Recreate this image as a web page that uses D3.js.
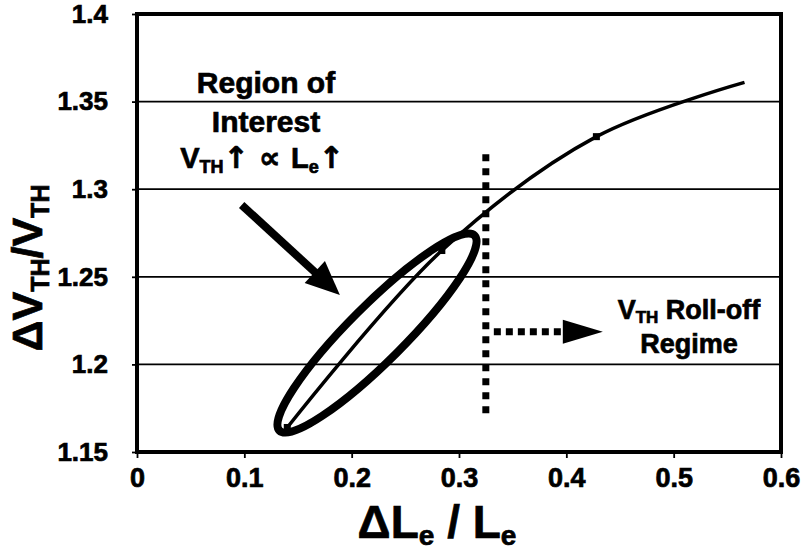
<!DOCTYPE html>
<meta charset="utf-8">
<head>
<style>
  body { margin: 0; background: #fff; }
  svg { display: block; }
  text { font-family: "Liberation Sans", Arial, sans-serif; font-weight: bold; fill: #000;
         stroke: #000; stroke-width: 0.7px; }
  .sym { font-family: "DejaVu Sans", sans-serif; }
</style>
</head>
<body>
<div id="chart"></div>
<script src="https://d3js.org/d3.v7.min.js"></script>
<script>
    // data
    const curveX = [0.14, 0.284, 0.428, 0.566];
    const curveY = [1.164, 1.265, 1.330, 1.361];
    const markerCount = 3;

    const xTicks = [0, 0.1, 0.2, 0.3, 0.4, 0.5, 0.6];
    const xTickLabels = ['0', '0.1', '0.2', '0.3', '0.4', '0.5', '0.6'];
    const yTicks = [1.15, 1.2, 1.25, 1.3, 1.35, 1.4];
    const yTickLabels = ['1.15', '1.2', '1.25', '1.3', '1.35', '1.4'];
    const gridValues = [1.2, 1.25, 1.3, 1.35];

    // annotations (data units)
    const ellipseCenter = [0.2236, 1.2179];
    const arrowFrom = [0.0975, 1.291];
    const arrowTo = [0.189, 1.2396];
    const rollOffX = 0.325;
    const rollOffYRange = [1.170, 1.32];
    const rollArrowY = 1.2187;
    const rollArrowEnd = 0.434;

    // chart setting
    let svgWidth = 808;
    let svgHeight = 551;
    let margin = {top: 14, right: 27, bottom: 99, left: 137};
    let width = svgWidth - margin.left - margin.right;
    let height = svgHeight - margin.top - margin.bottom;

    let svg = d3.select('#chart')
        .append('svg')
        .attr('width', svgWidth)
        .attr('height', svgHeight);

    let g = svg.append('g')
        .attr('transform', `translate(${margin.left}, ${margin.top})`);

    let x = d3.scaleLinear().domain([0, 0.6]).range([0, width]);
    let y = d3.scaleLinear().domain([1.15, 1.4]).range([height, 0]);

    // grid lines
    g.selectAll('.grid')
        .data(gridValues)
        .enter()
        .append('line')
        .attr('x1', 0)
        .attr('x2', width)
        .attr('y1', d => y(d))
        .attr('y2', d => y(d))
        .attr('stroke', '#000')
        .attr('stroke-width', 1.8);

    // axes
    let xAxis = g.append('g')
        .attr('transform', `translate(0, ${height})`)
        .call(d3.axisBottom(x).tickValues(xTicks).tickSize(6).tickPadding(10)
            .tickFormat((d, i) => xTickLabels[i]));
    let yAxis = g.append('g')
        .call(d3.axisLeft(y).tickValues(yTicks).tickSize(5).tickPadding(24)
            .tickFormat((d, i) => yTickLabels[i]));

    [xAxis, yAxis].forEach(a => {
        a.select('.domain').remove();
        a.selectAll('line').attr('stroke', '#000').attr('stroke-width', 1.8);
        a.selectAll('text').attr('fill', '#000')
            .style('font-family', '"Liberation Sans", Arial, sans-serif')
            .style('font-weight', 'bold');
    });
    xAxis.selectAll('text').style('font-size', '27px');
    yAxis.selectAll('text').style('font-size', '26px');

    // frame
    g.append('rect')
        .attr('x', 0)
        .attr('y', 0)
        .attr('width', width)
        .attr('height', height)
        .attr('fill', 'none')
        .attr('stroke', '#000')
        .attr('stroke-width', 4);

    // data line
    let points = curveX.map((v, i) => [v, curveY[i]]);
    let line = d3.line()
        .x(d => x(d[0]))
        .y(d => y(d[1]))
        .curve(d3.curveCatmullRom.alpha(0.5));

    g.append('path')
        .datum(points)
        .attr('d', line)
        .attr('fill', 'none')
        .attr('stroke', '#000')
        .attr('stroke-width', 3.5);

    g.selectAll('.marker')
        .data(points.slice(0, markerCount))
        .enter()
        .append('rect')
        .attr('x', d => x(d[0]) - 3.5)
        .attr('y', d => y(d[1]) - 3.5)
        .attr('width', 7)
        .attr('height', 7)
        .attr('fill', '#000');

    // ellipse round region of interest
    g.append('ellipse')
        .attr('transform', `translate(${x(ellipseCenter[0])}, ${y(ellipseCenter[1])}) rotate(-45)`)
        .attr('rx', 138)
        .attr('ry', 28)
        .attr('fill', 'none')
        .attr('stroke', '#000')
        .attr('stroke-width', 8);

    // arrow head points
    function arrowHead(x1, y1, x2, y2, len, half) {
        let dx = x2 - x1, dy = y2 - y1;
        let l = Math.sqrt(dx * dx + dy * dy);
        let ux = dx / l, uy = dy / l;
        let bx = x2 - ux * len, by = y2 - uy * len;
        return [[x2, y2], [bx - uy * half, by + ux * half], [bx + uy * half, by - ux * half]];
    }

    // solid arrow
    let ax1 = x(arrowFrom[0]), ay1 = y(arrowFrom[1]);
    let ax2 = x(arrowTo[0]), ay2 = y(arrowTo[1]);
    let head = arrowHead(ax1, ay1, ax2, ay2, 34, 15);
    let bx = (head[1][0] + head[2][0]) / 2, by = (head[1][1] + head[2][1]) / 2;
    g.append('line')
        .attr('x1', ax1).attr('y1', ay1)
        .attr('x2', bx + (ax2 - bx) * 0.2).attr('y2', by + (ay2 - by) * 0.2)
        .attr('stroke', '#000')
        .attr('stroke-width', 8);
    g.append('polygon')
        .attr('points', head.map(p => p.join(',')).join(' '))
        .attr('fill', '#000');

    // dotted vertical line
    g.append('line')
        .attr('x1', x(rollOffX)).attr('x2', x(rollOffX))
        .attr('y1', y(rollOffYRange[1])).attr('y2', y(rollOffYRange[0]))
        .attr('stroke', '#000')
        .attr('stroke-width', 7)
        .attr('stroke-dasharray', '7,7');

    // dotted arrow to the right
    let rx1 = x(rollOffX) + 8, rx2 = x(rollArrowEnd), ry = y(rollArrowY);
    let head2 = arrowHead(rx1, ry, rx2, ry, 40, 12);
    g.append('line')
        .attr('x1', rx1).attr('x2', rx2 - 40)
        .attr('y1', ry).attr('y2', ry)
        .attr('stroke', '#000')
        .attr('stroke-width', 7)
        .attr('stroke-dasharray', '7,5');
    g.append('polygon')
        .attr('points', head2.map(p => p.join(',')).join(' '))
        .attr('fill', '#000');

    // text helper: parts are [text, size, dy, class]
    function richText(parent, px, py, parts, anchor) {
        let t = parent.append('text')
            .attr('x', px)
            .attr('y', py)
            .attr('text-anchor', anchor || 'middle');
        parts.forEach(p => {
            let s = t.append('tspan')
                .style('font-size', p[1] + 'px')
                .attr('dy', p[2] || 0)
                .text(p[0]);
            if (p[3]) s.attr('class', p[3]);
        });
        return t;
    }

    // annotations
    richText(svg, 266, 93, [['Region of', 30]]);
    richText(svg, 266, 132, [['Interest', 30]]);
    richText(svg, 262, 168, [
        ['V', 29], ['TH', 18, 5], ['\u2191', 30, -5, 'sym'], [' \u221D ', 30, 0, 'sym'],
        ['L', 29], ['e', 18, 5], ['\u2191', 30, -5, 'sym']
    ]);

    richText(svg, 689, 319, [['V', 27], ['TH', 17, 4], [' Roll-off', 27, -4]]);
    richText(svg, 689, 353, [['Regime', 27]]);

    // axis titles
    richText(svg, 437, 538, [
        ['\u0394L', 46], ['e', 28, 7], [' / L', 46, -7], ['e', 28, 7]
    ]);

    let yTitle = svg.append('g')
        .attr('transform', 'translate(42, 268) rotate(-90)');
    richText(yTitle, 0, 0, [
        ['\u0394V', 43], ['TH', 25, 7], ['/V', 43, -7], ['TH', 25, 7]
    ]);
</script>
</body>
